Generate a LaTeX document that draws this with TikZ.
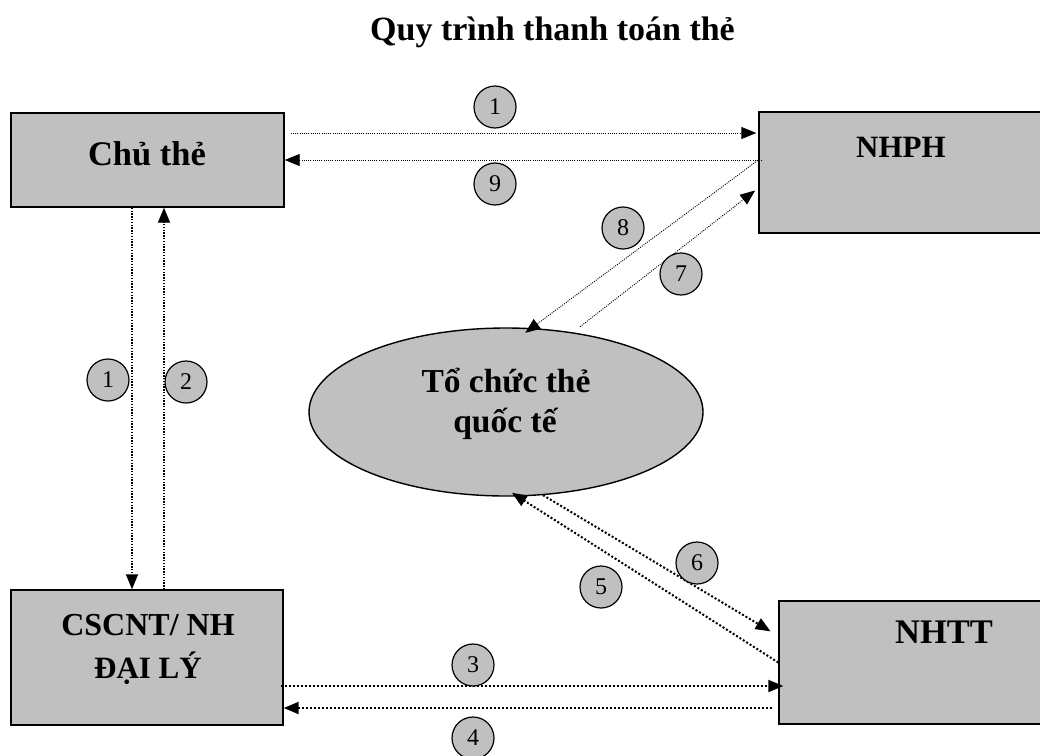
\documentclass[tikz,border=0pt]{standalone}
\usepackage{fontspec}
\setmainfont{Liberation Serif}
\usetikzlibrary{arrows.meta,shapes.geometric}
\definecolor{boxgray}{RGB}{192,192,192}
\tikzset{
  box/.style={draw=black,line width=1.4pt,fill=boxgray,inner sep=0pt},
  boxtext/.style={font=\fontsize{#1}{40}\selectfont\bfseries,inner sep=0pt,anchor=base},
  boxtext/.default=34,
  num/.style={circle,draw=black,line width=1.2pt,fill=boxgray,minimum size=42pt,inner sep=0pt,font=\fontsize{24}{24}\selectfont},
  arr/.style={-{Triangle[length=15pt,width=12pt]}},
  fineflow/.style={arr,line width=0.9pt,dash pattern=on 1pt off 1.2pt},
  midflow/.style={arr,line width=1.4pt,dash pattern=on 1.4pt off 1.4pt},
  boldflow/.style={arr,line width=2pt,dash pattern=on 2pt off 2pt}
}
\begin{document}
\begin{tikzpicture}[x=1pt,y=-1pt]
\useasboundingbox (0,0) rectangle (1040,755);
\clip (0,0) rectangle (1040,755);

% title
\node[font=\fontsize{34}{40}\selectfont\bfseries,inner sep=0pt,anchor=base west] (title) at (370,40) {Quy trình thanh toán thẻ};

% boxes
\node[box,minimum width=273pt,minimum height=94pt] (chu) at (147.5,160) {};
\node[box,minimum width=286pt,minimum height=121pt] (nhph) at (902,172.5) {};
\node[box,minimum width=272pt,minimum height=135pt] (cs) at (147,657.5) {};
\node[box,minimum width=266pt,minimum height=123pt] (nhtt) at (912,662.5) {};
\node[ellipse,draw=black,line width=1.4pt,fill=boxgray,minimum width=394pt,minimum height=168pt,inner sep=0pt] (ell) at (506,412) {};

% texts
\node[boxtext=34.5] (chut) at (147,165) {Chủ thẻ};
\node[boxtext=31] (nhpht) at (901,157) {NHPH};
\node[boxtext=34.5] (nhttt) at (944,643) {NHTT};
\node[boxtext=32] (cst1) at (148,635) {CSCNT/ NH};
\node[boxtext=31] (cst2) at (148,678) {ĐẠI LÝ};
\node[boxtext=33.5] (ellt1) at (506,392) {Tổ chức thẻ};
\node[boxtext=33.5] (ellt2) at (505,432) {quốc tế};

% connectors
\draw[fineflow,shorten <=6pt,shorten >=2pt] ([yshift=27pt]chu.east) -- ([yshift=39.5pt]nhph.west);
\draw[fineflow,shorten <=-4pt] ([yshift=12.5pt]nhph.west) -- (chu.east);
\draw[fineflow,shorten <=1pt,shorten >=-8pt] ([yshift=12.5pt]nhph.west) -- (ell.73);
\draw[fineflow,shorten <=9pt,shorten >=4pt] (ell.50) -- ([yshift=-15.5pt]nhph.west);
\draw[midflow] ([xshift=-15.5pt]chu.south) -- ([xshift=-15pt]cs.north);
\draw[midflow] ([xshift=17pt]cs.north) -- ([xshift=16.5pt]chu.south);
\draw[boldflow,shorten >=9pt] (ell.-66) -- ([yshift=26.5pt]nhtt.west);
\draw[boldflow,shorten >=-7pt] (nhtt.west) -- (ell.-82);
\draw[boldflow,shorten <=-3pt,shorten >=-5pt] ([yshift=-28.5pt]cs.east) -- ([yshift=-23.5pt]nhtt.west);
\draw[boldflow,shorten <=6pt] ([yshift=-45.5pt]nhtt.west) -- ([yshift=-50.5pt]cs.east);

% step numbers
\node[num] (n1a) at (495,107) {1};
\node[num] (n9) at (495,184) {9};
\node[num] (n8) at (623,228) {8};
\node[num] (n7) at (681,274) {7};
\node[num] (n1b) at (108,380) {1};
\node[num] (n2) at (186,382) {2};
\node[num] (n6) at (697,563) {6};
\node[num] (n5) at (601,587) {5};
\node[num] (n3) at (473,665) {3};
\node[num] (n4) at (473,738) {4};
\end{tikzpicture}
\end{document}
